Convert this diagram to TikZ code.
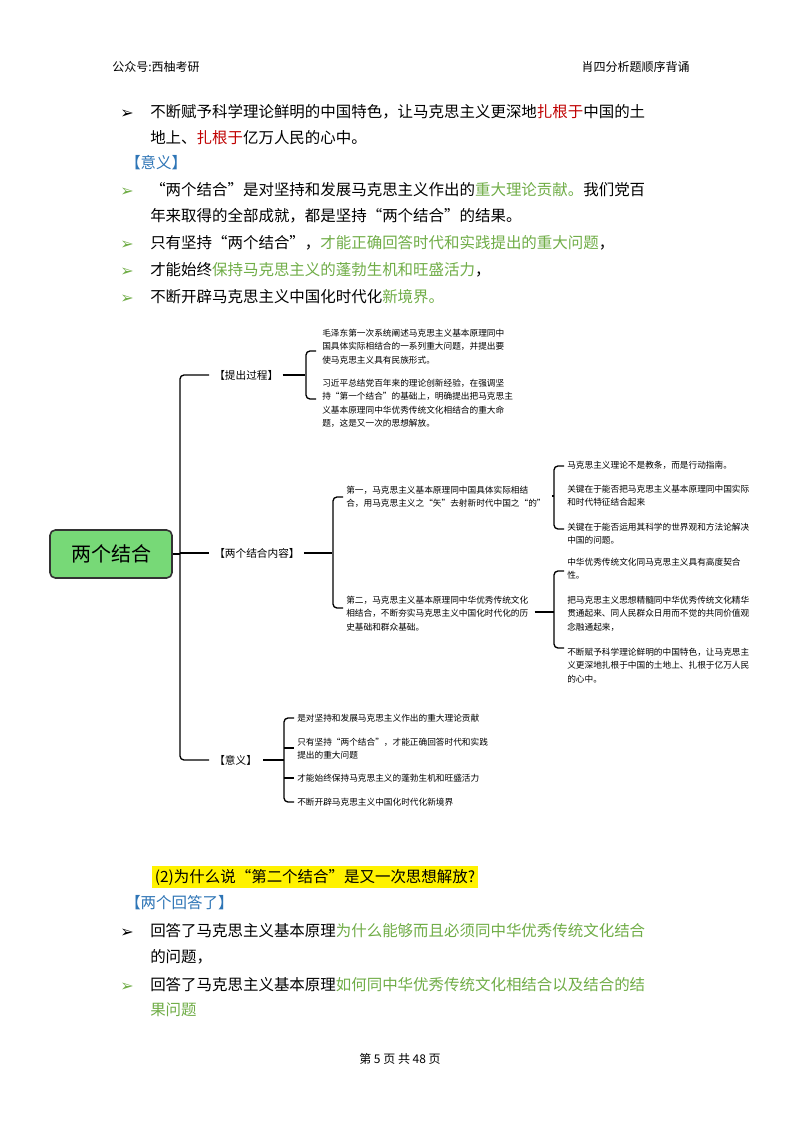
\documentclass[tikz,border=0pt]{standalone}
\usepackage{fontspec}
\usetikzlibrary{calc}
\newfontfamily\cjk{Noto Sans CJK SC}
\newfontfamily\dv{DejaVu Sans}
\newcommand\nl{\\[2.6pt]}
\begin{document}
\begin{tikzpicture}[x=0.75pt,y=-0.75pt,
 body/.style={anchor=base west,inner sep=0,font=\cjk\fontsize{11.6}{14}\selectfont},
 small/.style={anchor=north west,yshift=5.4pt,inner sep=0,font=\cjk\fontsize{6.5}{7.5}\selectfont,align=left},
 lab/.style={anchor=west,inner sep=0,font=\cjk\fontsize{8}{10}\selectfont},
 ln/.style={line width=1pt,rounded corners=3pt},
 bul/.style={anchor=base west,inner sep=0,font=\dv\bfseries\fontsize{12}{12}\selectfont}]
\definecolor{gr}{HTML}{70AD47}\definecolor{rd}{HTML}{C00000}\definecolor{bl}{HTML}{2E75B6}
\fill[white] (0,0) rectangle (800,1132);
\node[body,font=\cjk\fontsize{9}{11}\selectfont] (h1) at (112,71) {公众号:西柚考研};
\node[body,anchor=base east,font=\cjk\fontsize{9}{11}\selectfont] (h2) at (690,71) {肖四分析题顺序背诵};
\node[body,anchor=base,font=\cjk\fontsize{9}{11}\selectfont] (ft) at (400,1063) {第 5 页 共 48 页};
% top bullets
\node[bul] (b1) at (120,118) {➢};
\node[body] (t1) at (150,117) {不断赋予科学理论鲜明的中国特色，让马克思主义更深地\textcolor{rd}{扎根于}中国的土};
\node[body] (t1b) at (150,143) {地上、\textcolor{rd}{扎根于}亿万人民的心中。};
\node[body,text=bl] (yy) at (125,168) {【意义】};
\node[bul,text=gr] (b2) at (120,196) {➢};
\node[body] (t2) at (150,195) {“两个结合”是对坚持和发展马克思主义作出的\textcolor{gr}{重大理论贡献。}我们党百};
\node[body] (t2b) at (150,221) {年来取得的全部成就，都是坚持“两个结合”的结果。};
\node[bul,text=gr] (b3) at (120,249) {➢};
\node[body] (t3) at (150,248) {只有坚持“两个结合”，\textcolor{gr}{才能正确回答时代和实践提出的重大问题}，};
\node[bul,text=gr] (b4) at (120,276) {➢};
\node[body] (t4) at (150,275) {才能始终\textcolor{gr}{保持马克思主义的蓬勃生机和旺盛活力}，};
\node[bul,text=gr] (b5) at (120,303) {➢};
\node[body] (t5) at (150,302) {不断开辟马克思主义中国化时代化\textcolor{gr}{新境界。}};
% mind map
\node[draw=black!80,line width=1.2pt,fill=green!45!white!85!black,rounded corners=4pt,minimum width=122*0.75pt,minimum height=48*0.75pt,font=\cjk\fontsize{15}{18}\selectfont] (root) at (111,554) {两个结合};
\node[lab] (k1) at (214,375) {【提出过程】};
\node[lab] (k2) at (214,553) {【两个结合内容】};
\node[lab] (k3) at (214,760) {【意义】};
\draw[ln] (root.east) -- (180,554);
\draw[ln] ($(k1.west)+(-5,0)$) -- (180,375) -- (180,760) -- ($(k3.west)+(-5,0)$);
\draw[ln] (180,553) -- ($(k2.west)+(-5,0)$);
% 提出过程
\draw[ln] ($(k1.east)+(4,0)$) -- (305,375);
\draw[ln] (316,351) -- (306,351) -- (306,399) -- (316,399);
\node[small] (p1) at (322,336) {毛泽东第一次系统阐述马克思主义基本原理同中\nl 国具体实际相结合的一系列重大问题，并提出要\nl 使马克思主义具有民族形式。};
\node[small] (p2) at (322,386) {习近平总结党百年来的理论创新经验，在强调坚\nl 持“第一个结合”的基础上，明确提出把马克思主\nl 义基本原理同中华优秀传统文化相结合的重大命\nl 题，这是又一次的思想解放。};
% 两个结合内容
\draw[ln] ($(k2.east)+(4,0)$) -- (332,553);
\draw[ln] (343,497) -- (333,497) -- (333,608) -- (343,608);
\node[small] (c1) at (346,493) {第一，马克思主义基本原理同中国具体实际相结\nl 合，用马克思主义之“矢”去射新时代中国之“的”};
\node[small] (c2) at (346,603) {第二，马克思主义基本原理同中华优秀传统文化\nl 相结合，不断夯实马克思主义中国化时代化的历\nl 史基础和群众基础。};
\draw[ln] (c1.east |- 0,496) ++(6,0) -- (554,496);
\draw[ln] (c2.east |- 0,612) ++(6,0) -- (554,612);
\draw[ln] (564,466) -- (554,466) -- (554,529) -- (564,529);
\node[small] (l1) at (567,468) {马克思主义理论不是教条，而是行动指南。};
\node[small] (l2) at (567,492) {关键在于能否把马克思主义基本原理同中国实际\nl 和时代特征结合起来};
\node[small] (l3) at (567,530) {关键在于能否运用其科学的世界观和方法论解决\nl 中国的问题。};
\draw[ln] (564,571) -- (554,571) -- (554,648) -- (564,648);
\node[small] (m1) at (567,565) {中华优秀传统文化同马克思主义具有高度契合\nl 性。};
\node[small] (m2) at (567,603) {把马克思主义思想精髓同中华优秀传统文化精华\nl 贯通起来、同人民群众日用而不觉的共同价值观\nl 念融通起来，};
\node[small] (m3) at (567,655) {不断赋予科学理论鲜明的中国特色，让马克思主\nl 义更深地扎根于中国的土地上、扎根于亿万人民\nl 的心中。};
% 意义
\draw[ln] ($(k3.east)+(6,0)$) -- (284,760);
\draw[ln] (294,718) -- (284,718) -- (284,802) -- (294,802);
\draw[ln] (284,748) -- (294,748);
\draw[ln] (284,778) -- (294,778);
\node[small] (y1) at (297,721) {是对坚持和发展马克思主义作出的重大理论贡献};
\node[small] (y2) at (297,745) {只有坚持“两个结合”，才能正确回答时代和实践\nl 提出的重大问题};
\node[small] (y3) at (297,781) {才能始终保持马克思主义的蓬勃生机和旺盛活力};
\node[small] (y4) at (297,805) {不断开辟马克思主义中国化时代化新境界};
% bottom
\node[body,fill=yellow,inner sep=2pt] (q) at (152,882) {(2)为什么说“第二个结合”是又一次思想解放?};
\node[body,text=bl] (ha) at (125,908) {【两个回答了】};
\node[bul] (b6) at (120,937) {➢};
\node[body] (t6) at (150,936) {回答了马克思主义基本原理\textcolor{gr}{为什么能够而且必须同中华优秀传统文化结合}};
\node[body] (t6b) at (150,962) {的问题，};
\node[bul,text=gr] (b7) at (120,991) {➢};
\node[body] (t7) at (150,990) {回答了马克思主义基本原理\textcolor{gr}{如何同中华优秀传统文化相结合以及结合的结}};
\node[body,text=gr] (t7b) at (150,1015) {果问题};
\end{tikzpicture}
\end{document}
